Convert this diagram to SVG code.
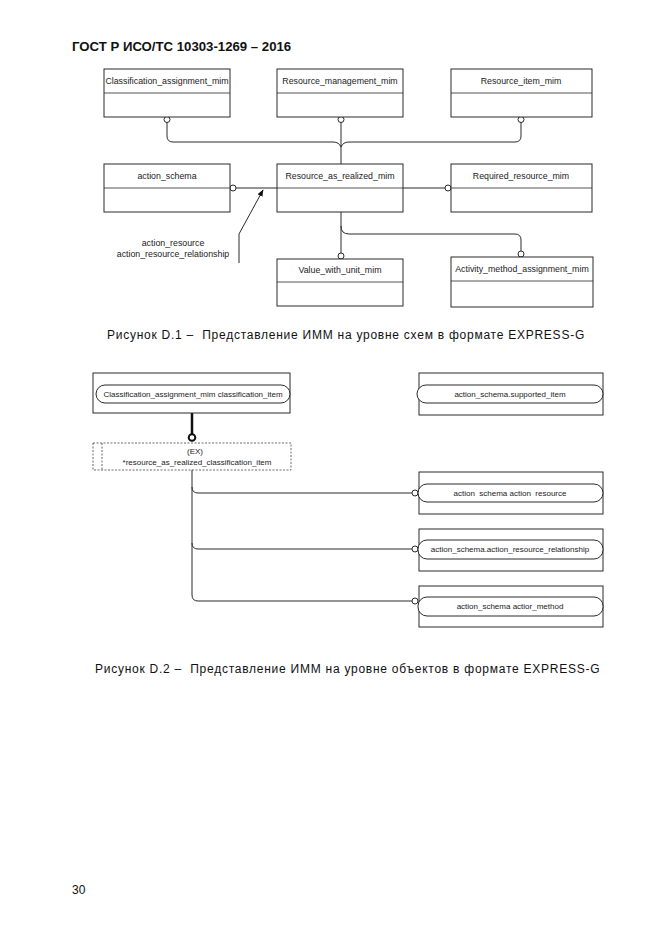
<svg xmlns="http://www.w3.org/2000/svg" width="661" height="935" viewBox="0 0 661 935">
<defs>
<style>
.bg{fill:#fff}
.box{fill:#fff;stroke:#2a2a2a;stroke-width:1}
.div{stroke:#2a2a2a;stroke-width:0.8}
.lbl{font-family:"Liberation Sans",Arial,sans-serif;font-size:8.8px;fill:#222;text-anchor:middle}
.lbl2{font-family:"Liberation Sans",Arial,sans-serif;font-size:8px;fill:#222;text-anchor:middle}
.con{fill:none;stroke:#2a2a2a;stroke-width:1}
.circ{fill:#fff;stroke:#2a2a2a;stroke-width:1}
.cap{font-family:"Liberation Sans",Arial,sans-serif;font-size:12px;fill:#111;letter-spacing:0.75px}
.hdr{font-family:"Liberation Sans",Arial,sans-serif;font-size:13.2px;font-weight:bold;fill:#111}
.pill{fill:#fff;stroke:#2a2a2a;stroke-width:1}
.dash{fill:none;stroke:#444;stroke-width:0.8;stroke-dasharray:2 1.5}
</style>
<marker id="arr" viewBox="0 0 10 10" refX="9" refY="5" markerWidth="7" markerHeight="7" orient="auto" markerUnits="userSpaceOnUse">
<path d="M0,1 L10,5 L0,9 Z" fill="#111"/>
</marker>
</defs>
<rect class="bg" x="0" y="0" width="661" height="935"/>
<text class="hdr" x="72" y="51">ГОСТ Р ИСО/ТС 10303-1269 – 2016</text>

<!-- Figure D.1 connectors -->
<g id="connectors-d1">
<path class="con" d="M167,122 V136 Q167,142 173,142 H333 Q339,142 341,147"/>
<path class="con" d="M521,122 V136 Q521,142 515,142 H349 Q343,142 341,147"/>
<path class="con" d="M341,122 V164"/>
<path class="con" d="M236,188 H277"/>
<path class="con" d="M403,188 H445"/>
<path class="con" d="M341,212 V253"/>
<path class="con" d="M341,226 Q341,234 349,234 H515 Q521,234 521,240 V251"/>
<path class="con" d="M239,263 V234 L263,190" marker-end="url(#arr)"/>
<circle class="circ" cx="167" cy="119.5" r="3"/>
<circle class="circ" cx="341" cy="119.5" r="3"/>
<circle class="circ" cx="521" cy="119.5" r="3"/>
<circle class="circ" cx="233" cy="188" r="3"/>
<circle class="circ" cx="448" cy="188" r="3"/>
<circle class="circ" cx="341" cy="256" r="3"/>
<circle class="circ" cx="521" cy="254" r="3"/>
<text class="lbl" x="173" y="246">action_resource</text>
<text class="lbl" x="173" y="257">action_resource_relationship</text>
</g>

<g id="n-classification">
<rect class="box" x="104" y="69" width="126" height="48"/>
<line class="div" x1="104" y1="93" x2="230" y2="93"/>
<text class="lbl" x="167" y="84">Classification_assignment_mim</text>
</g>
<g id="n-resource-management">
<rect class="box" x="277" y="69" width="126" height="48"/>
<line class="div" x1="277" y1="93" x2="403" y2="93"/>
<text class="lbl" x="340" y="84">Resource_management_mim</text>
</g>
<g id="n-resource-item">
<rect class="box" x="451" y="69" width="141" height="48"/>
<line class="div" x1="451" y1="93" x2="592" y2="93"/>
<text class="lbl" x="521" y="84">Resource_item_mim</text>
</g>
<g id="n-action-schema">
<rect class="box" x="104" y="164" width="126" height="48"/>
<line class="div" x1="104" y1="188" x2="230" y2="188"/>
<text class="lbl" x="167" y="179">action_schema</text>
</g>
<g id="n-resource-as-realized">
<rect class="box" x="277" y="164" width="126" height="48"/>
<line class="div" x1="277" y1="188" x2="403" y2="188"/>
<text class="lbl" x="340" y="179">Resource_as_realized_mim</text>
</g>
<g id="n-required-resource">
<rect class="box" x="451" y="164" width="141" height="48"/>
<line class="div" x1="451" y1="188" x2="592" y2="188"/>
<text class="lbl" x="521" y="179">Required_resource_mim</text>
</g>
<g id="n-value-with-unit">
<rect class="box" x="277" y="259" width="126" height="47"/>
<line class="div" x1="277" y1="282" x2="403" y2="282"/>
<text class="lbl" x="340" y="273">Value_with_unit_mim</text>
</g>
<g id="n-activity-method">
<rect class="box" x="451" y="257" width="142" height="50"/>
<line class="div" x1="451" y1="281" x2="593" y2="281"/>
<text class="lbl" x="522" y="272">Activity_method_assignment_mim</text>
</g>

<text class="cap" x="107" y="339" xml:space="preserve">Рисунок D.1 –  Представление ИММ на уровне схем в формате EXPRESS-G</text>

<!-- Figure D.2 connectors -->
<g id="connectors-d2">
<line x1="192" y1="413" x2="192" y2="434" stroke="#111" stroke-width="2.5"/>
<circle cx="192" cy="437.5" r="3.3" fill="#fff" stroke="#111" stroke-width="2"/>
<path class="con" d="M192,470 V487 Q192,493 198,493 H412"/>
<path class="con" d="M192,487 V543 Q192,549 198,549 H412"/>
<path class="con" d="M192,543 V595 Q192,601 198,601 H412"/>
<circle class="circ" cx="415" cy="493" r="3"/>
<circle class="circ" cx="415" cy="549" r="3"/>
<circle class="circ" cx="415" cy="601" r="3"/>
</g>

<g id="n-cls-item">
<rect class="box" x="93" y="373" width="197" height="40"/>
<rect class="pill" x="96" y="385" width="194" height="18" rx="9" ry="9"/>
<text class="lbl2" x="193" y="397">Classification_assignment_mim classification_item</text>
</g>
<g id="n-supported-item">
<rect class="box" x="419" y="373" width="184" height="42"/>
<rect class="pill" x="417" y="385" width="186" height="18" rx="9" ry="9"/>
<text class="lbl2" x="510" y="397">action_schema.supported_item</text>
</g>
<g id="n-rarci">
<rect class="dash" x="93" y="443" width="198" height="27"/>
<line class="dash" x1="102" y1="443" x2="102" y2="470"/>
<text class="lbl2" x="195" y="454">(EX)</text>
<text class="lbl2" x="197" y="465">*resource_as_realized_classification_item</text>
</g>
<g id="n-action-resource">
<rect class="box" x="419" y="472" width="184" height="42"/>
<rect class="pill" x="418" y="484" width="185" height="18" rx="9" ry="9"/>
<text class="lbl2" x="510" y="496" xml:space="preserve">action  schema action  resource</text>
</g>
<g id="n-action-resource-relationship">
<rect class="box" x="419" y="529" width="184" height="42"/>
<rect class="pill" x="418" y="540" width="185" height="19" rx="9" ry="9"/>
<text class="lbl2" x="510" y="552">action_schema.action_resource_relationship</text>
</g>
<g id="n-action-method">
<rect class="box" x="419" y="586" width="184" height="41"/>
<rect class="pill" x="418" y="597" width="185" height="19" rx="9" ry="9"/>
<text class="lbl2" x="510" y="609">action_schema actior_method</text>
</g>

<text class="cap" x="95" y="673" xml:space="preserve">Рисунок D.2 –  Представление ИММ на уровне объектов в формате EXPRESS-G</text>

<text class="cap" x="72" y="894" style="letter-spacing:0">30</text>
</svg>
